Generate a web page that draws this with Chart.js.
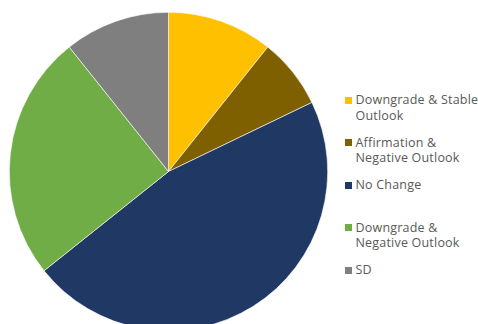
<!DOCTYPE html>
<html>
<head>
<meta charset="utf-8">
<script src="https://cdn.jsdelivr.net/npm/chart.js@4"></script>
<style>
    html, body { margin: 0; padding: 0; background: #fff; overflow: hidden; }
    body { width: 478px; height: 324px; position: relative; }
    #pieWrap { position: absolute; left: 0; top: 0; width: 340px; height: 340px; }
    #legend {
        position: absolute; left: 345px; top: 92px; margin: 0; padding: 0; list-style: none;
        font-family: "Open Sans", sans-serif; font-size: 12.5px; letter-spacing: 0.2px;
        line-height: 15.5px; color: #595959;
    }
    #legend li { position: relative; height: 42.5px; padding-left: 10.5px; white-space: nowrap; }
    #legend li span.box { position: absolute; left: 0; top: 4.5px; width: 7px; height: 7px; }
</style>
</head>
<body>
<div id="pieWrap"><canvas id="ratingPie" width="340" height="340"></canvas></div>
<ul id="legend"></ul>
<script>
// Rating actions, counted per category
const categories = [
    ['Downgrade & Stable', 'Outlook'],
    ['Affirmation &', 'Negative Outlook'],
    ['No Change'],
    ['Downgrade &', 'Negative Outlook'],
    ['SD']
];
const counts = [3, 2, 13, 7, 3];
const colors = ['#FFC000', '#7F6000', '#203864', '#70AD47', '#7F7F7F'];

new Chart(document.getElementById('ratingPie'), {
    type: 'pie',
    data: {
        labels: categories.map(c => c.join(' ')),
        datasets: [{
            data: counts,
            backgroundColor: colors,
            borderColor: '#ffffff',
            borderWidth: 0.6
        }]
    },
    options: {
        responsive: false,
        animation: false,
        layout: { padding: { left: 9, right: 12, top: 12, bottom: 9 } },
        plugins: {
            legend: { display: false },
            tooltip: { enabled: false }
        }
    }
});

// Legend built from the same category list
const legend = document.getElementById('legend');
categories.forEach((lines, i) => {
    const li = document.createElement('li');
    li.innerHTML = `<span class="box" style="background:${colors[i]}"></span>` + lines.join('<br>');
    legend.appendChild(li);
});
</script>
</body>
</html>
